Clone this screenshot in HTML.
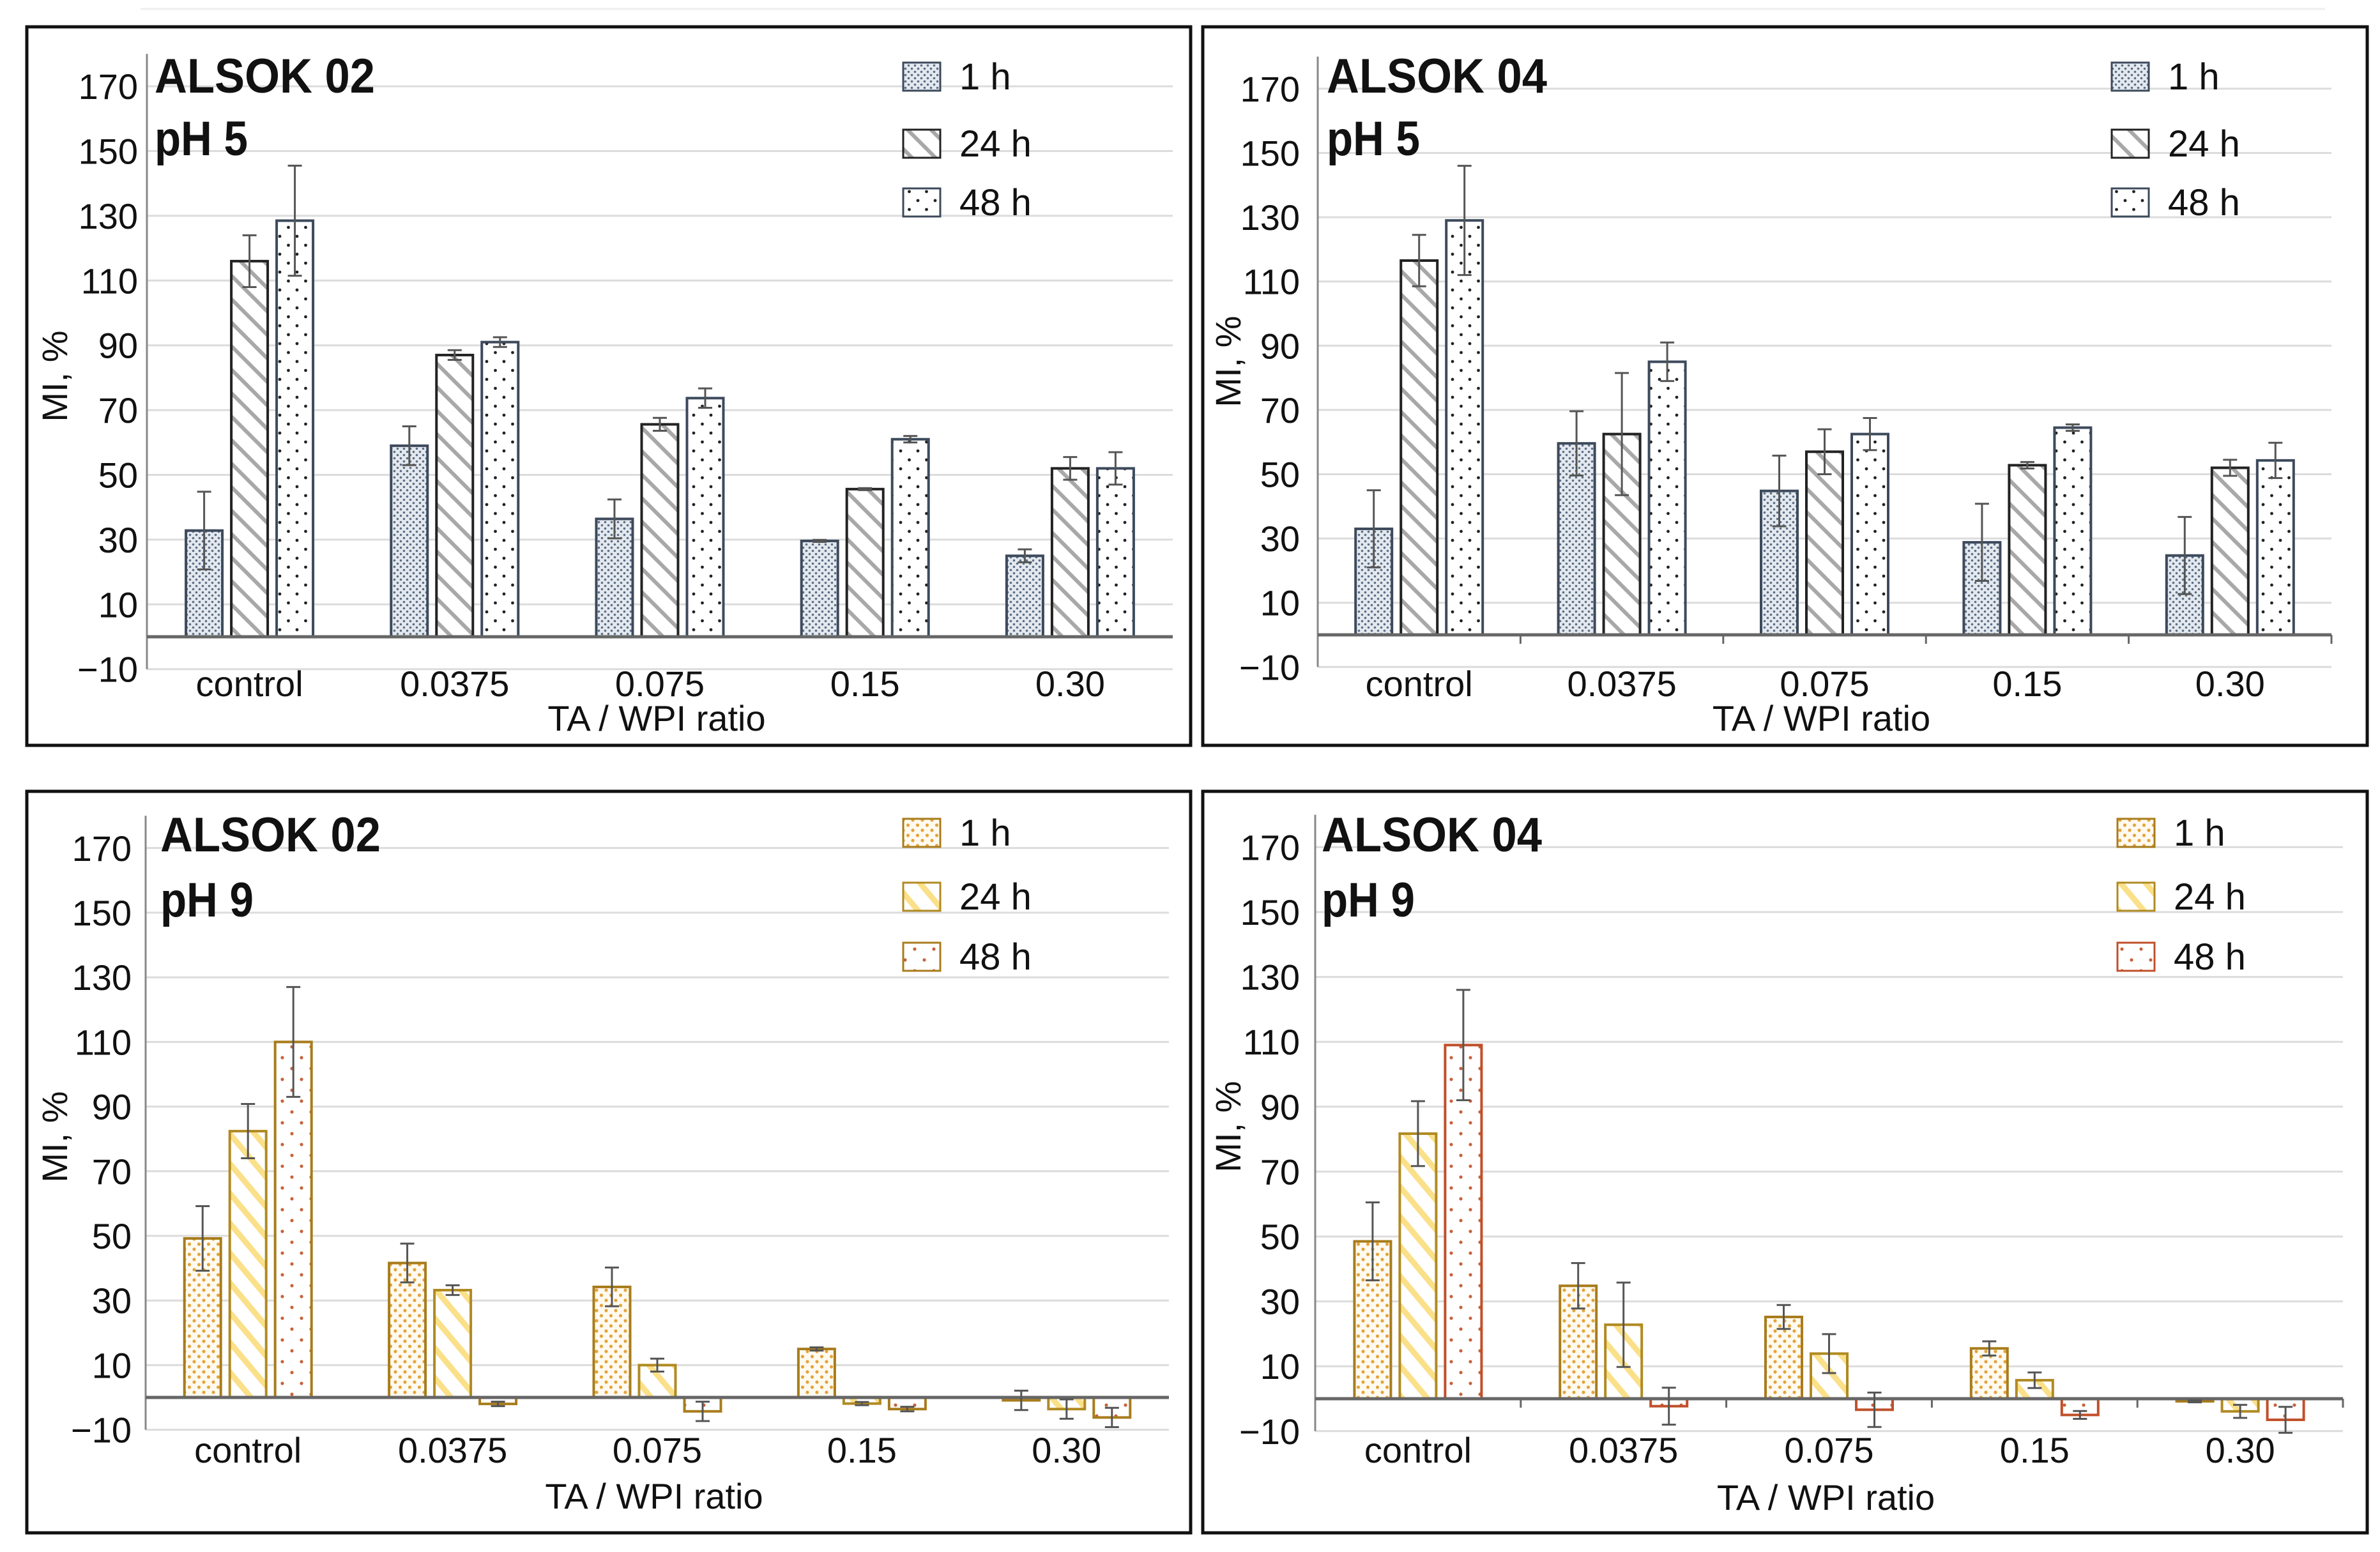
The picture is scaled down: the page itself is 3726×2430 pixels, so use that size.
<!DOCTYPE html>
<html><head><meta charset="utf-8"><style>
html,body{margin:0;padding:0;background:#fff;}
svg{display:block;}
text{font-family:"Liberation Sans",Arial,sans-serif;fill:#111;}
</style></head><body>
<svg id="chart" xmlns="http://www.w3.org/2000/svg" width="3726" height="2430" viewBox="0 0 3726 2430">
<defs>
  <pattern id="p5h1" patternUnits="userSpaceOnUse" width="10" height="10">
    <rect width="10" height="10" fill="#e4e9ef"/><circle cx="2.5" cy="2.5" r="1.8" fill="#5b6e85"/><circle cx="7.5" cy="7.5" r="1.8" fill="#5b6e85"/>
  </pattern>
  <pattern id="p5h24" patternUnits="userSpaceOnUse" width="26" height="26" patternTransform="rotate(-45)">
    <rect width="26" height="26" fill="#fff"/><rect x="0" y="0" width="6" height="26" fill="#a8a8a8"/>
  </pattern>
  <pattern id="p5h48" patternUnits="userSpaceOnUse" width="27" height="28">
    <rect width="27" height="28" fill="#fff"/><circle cx="6" cy="6" r="2.4" fill="#222"/><circle cx="19.5" cy="20" r="2.4" fill="#222"/>
  </pattern>
  <pattern id="p9h1" patternUnits="userSpaceOnUse" width="15" height="16">
    <rect width="15" height="16" fill="#fffaf0"/><circle cx="4" cy="4" r="2.6" fill="#e3a43c"/><circle cx="11.5" cy="12" r="2.6" fill="#e3a43c"/>
  </pattern>
  <pattern id="p9h24" patternUnits="userSpaceOnUse" width="30" height="30" patternTransform="rotate(-40)">
    <rect width="30" height="30" fill="#fff"/><rect x="0" y="0" width="9" height="30" fill="#fbe08a"/>
  </pattern>
  <pattern id="p9h48" patternUnits="userSpaceOnUse" width="30" height="34">
    <rect width="30" height="34" fill="#fff"/><circle cx="7" cy="7" r="2.6" fill="#c8623a"/><circle cx="22" cy="24" r="2.6" fill="#c8623a"/>
  </pattern>
</defs>
<line x1="220" y1="14" x2="3640" y2="14" stroke="#eee" stroke-width="3"/>
</svg>
<script>
const categories = ["control", "0.0375", "0.075", "0.15", "0.30"];
const seriesLabels = ["1 h", "24 h", "48 h"];
const tickValues = [-10, 10, 30, 50, 70, 90, 110, 130, 150, 170];
const tickLabels = ["\u221210", "10", "30", "50", "70", "90", "110", "130", "150", "170"];

const a02ph5_1h  = [32.8, 59, 36.4, 29.6, 25];
const a02ph5_24h = [116, 87, 65.6, 45.6, 52];
const a02ph5_48h = [128.5, 91, 73.7, 61, 52];
const a02ph5_err1  = [12, 6, 6, 0.3, 2];
const a02ph5_err24 = [8, 1.5, 2, 0.3, 3.5];
const a02ph5_err48 = [17, 1.5, 3, 1, 5];

const a04ph5_1h  = [33, 59.6, 44.8, 28.8, 24.7];
const a04ph5_24h = [116.5, 62.5, 57, 52.8, 52];
const a04ph5_48h = [129, 85, 62.5, 64.5, 54.3];
const a04ph5_err1  = [12, 10, 11, 12, 12];
const a04ph5_err24 = [8, 19, 7, 1, 2.5];
const a04ph5_err48 = [17, 6, 5, 1, 5.5];

const a02ph9_1h  = [49.2, 41.6, 34.2, 15, -0.9];
const a02ph9_24h = [82.4, 33.2, 10, -1.9, -3.6];
const a02ph9_48h = [110, -2, -4.3, -3.6, -6.2];
const a02ph9_err1  = [10, 6, 6, 0.5, 3];
const a02ph9_err24 = [8.4, 1.5, 2, 0.5, 3];
const a02ph9_err48 = [17, 0.7, 3, 0.7, 3];

const a04ph9_1h  = [48.5, 34.8, 25.2, 15.5, -0.8];
const a04ph9_24h = [81.7, 22.8, 13.9, 5.7, -3.9];
const a04ph9_48h = [109, -2.3, -3.4, -5, -6.5];
const a04ph9_err1  = [12, 7, 3.7, 2.2, 0.3];
const a04ph9_err24 = [10, 13, 6, 2.4, 2];
const a04ph9_err48 = [17, 5.7, 5.3, 1.2, 4];

const NS = "http://www.w3.org/2000/svg";
const svg = document.getElementById("chart");
function mk(tag, attrs, parent) {
  const e = document.createElementNS(NS, tag);
  for (const k in attrs) e.setAttribute(k, attrs[k]);
  (parent || svg).appendChild(e);
  return e;
}

const panels = [
  {key:"a02-ph5", title:"ALSOK 02", ph:"pH 5", box:[42,42,1864,1167], ax:230, ar:1836, zero:997, per:5.07,
   tickR:216, titleX:242, titleY:145, phY:243, legX:1414, legY:[98,203,295], legH:44, ytX:85, ytY:589, xlY:1090, xtY:1144,
   data:[a02ph5_1h,a02ph5_24h,a02ph5_48h], err:[a02ph5_err1,a02ph5_err24,a02ph5_err48], pats:["p5h1","p5h24","p5h48"],
   strokes:["#3d4a5c","#222","#3d4a5c"], ticks:false},
  {key:"a04-ph5", title:"ALSOK 04", ph:"pH 5", box:[1883,42,3706,1167], ax:2063, ar:3650, zero:994, per:5.03,
   tickR:2035, titleX:2077, titleY:145, phY:243, legX:3306, legY:[98,203,295], legH:44, ytX:1922, ytY:566, xlY:1090, xtY:1144,
   data:[a04ph5_1h,a04ph5_24h,a04ph5_48h], err:[a04ph5_err1,a04ph5_err24,a04ph5_err48], pats:["p5h1","p5h24","p5h48"],
   strokes:["#3d4a5c","#222","#3d4a5c"], ticks:true},
  {key:"a02-ph9", title:"ALSOK 02", ph:"pH 9", box:[42,1239,1864,2400], ax:228, ar:1830, zero:2188, per:5.06,
   tickR:206, titleX:251, titleY:1333, phY:1435, legX:1414, legY:[1282,1382,1476], legH:44, ytX:85, ytY:1780, xlY:2290, xtY:2362,
   data:[a02ph9_1h,a02ph9_24h,a02ph9_48h], err:[a02ph9_err1,a02ph9_err24,a02ph9_err48], pats:["p9h1","p9h24","p9h48"],
   strokes:["#a87c1c","#b08a22","#a87c1c"], ticks:false},
  {key:"a04-ph9", title:"ALSOK 04", ph:"pH 9", box:[1883,1239,3706,2400], ax:2059, ar:3668, zero:2190, per:5.08,
   tickR:2035, titleX:2069, titleY:1333, phY:1435, legX:3315, legY:[1282,1382,1476], legH:44, ytX:1922, ytY:1764, xlY:2290, xtY:2364,
   data:[a04ph9_1h,a04ph9_24h,a04ph9_48h], err:[a04ph9_err1,a04ph9_err24,a04ph9_err48], pats:["p9h1","p9h24","p9h48"],
   strokes:["#a87c1c","#b08a22","#c0502a"], ticks:true}
];

panels.forEach(p => {
  const g = mk("g", {});
  
  
  const y = v => p.zero - v * p.per;
  const bw = (p.ar - p.ax) / categories.length;
  const x = i => p.ax + bw * (i + 0.5);

  tickValues.forEach((v, i) => {
    const gl = mk("line", {x1:p.ax, x2:p.ar, y1:y(v), y2:y(v), stroke:"#dcdcdc", "stroke-width":3}, g);
    
    
    const t = mk("text", {x:p.tickR, y:y(v)+20, "text-anchor":"end", "font-size":56}, g);
    t.textContent = tickLabels[i];
    
    
  });
  const ya = mk("line", {x1:p.ax, x2:p.ax, y1:y(180), y2:y(-10), stroke:"#888", "stroke-width":3}, g);
  
  

  const pitch = 71, barW = 57;
  p.data.forEach((ser, s) => {
    ser.forEach((v, i) => {
      const cx = x(i) + (s - 1) * pitch;
      const top = Math.min(y(v), y(0)), h = Math.abs(y(v) - y(0));
      const r = mk("rect", {x:cx - barW/2, y:top, width:barW, height:Math.max(h,2), fill:"url(#"+p.pats[s]+")", stroke:p.strokes[s], "stroke-width":4}, g);
      
      
    });
  });
  const zl = mk("line", {x1:p.ax, x2:p.ar, y1:y(0), y2:y(0), stroke:"#666", "stroke-width":5}, g);
  
  
  if (p.ticks) {
    for (let i = 1; i <= categories.length; i++) {
      const tk = mk("line", {x1:p.ax + bw*i, x2:p.ax + bw*i, y1:y(0), y2:y(0)+14, stroke:"#666", "stroke-width":3}, g);
      
      
    }
  }
  p.data.forEach((ser, s) => {
    ser.forEach((v, i) => {
      const cx = x(i) + (s - 1) * pitch, e = p.err[s][i];
      const eg = mk("g", {stroke:"#555", "stroke-width":3}, g);
      
      
      mk("line", {x1:cx, x2:cx, y1:y(v+e), y2:y(v-e)}, eg);
      mk("line", {x1:cx-11, x2:cx+11, y1:y(v+e), y2:y(v+e)}, eg);
      mk("line", {x1:cx-11, x2:cx+11, y1:y(v-e), y2:y(v-e)}, eg);
    });
  });
  categories.forEach((c, i) => {
    const t = mk("text", {x:x(i), y:p.xlY, "text-anchor":"middle", "font-size":56}, g);
    t.textContent = c;
    
    
  });
  const xt = mk("text", {x:(p.ax+p.ar)/2 - 5, y:p.xtY, "text-anchor":"middle", "font-size":56}, g);
  xt.textContent = "TA / WPI ratio";
  
  
  const yt = mk("text", {x:0, y:0, "text-anchor":"middle", "font-size":56, transform:"translate("+(p.ytX+20)+","+p.ytY+") rotate(-90)"}, g);
  yt.textContent = "MI, %";
  
  
  const t1 = mk("text", {x:p.titleX, y:p.titleY, "font-size":76, "font-weight":"bold", textLength:345, lengthAdjust:"spacingAndGlyphs"}, g);
  t1.textContent = p.title;
  
  
  const t2 = mk("text", {x:p.titleX, y:p.phY, "font-size":76, "font-weight":"bold", textLength:146, lengthAdjust:"spacingAndGlyphs"}, g);
  t2.textContent = p.ph;
  
  
  seriesLabels.forEach((lab, s) => {
    const lg = mk("g", {}, g);
    
    
    mk("rect", {x:p.legX, y:p.legY[s], width:58, height:p.legH, fill:"url(#"+p.pats[s]+")", stroke:p.strokes[s], "stroke-width":3}, lg);
    const t = mk("text", {x:p.legX + 88, y:p.legY[s] + p.legH - 2, "font-size":58}, lg);
    t.textContent = lab;
  });
  const b = p.box;
  const br = mk("rect", {x:b[0], y:b[1], width:b[2]-b[0], height:b[3]-b[1], fill:"none", stroke:"#111", "stroke-width":5}, g);
  
  
});
</script>
</body></html>
